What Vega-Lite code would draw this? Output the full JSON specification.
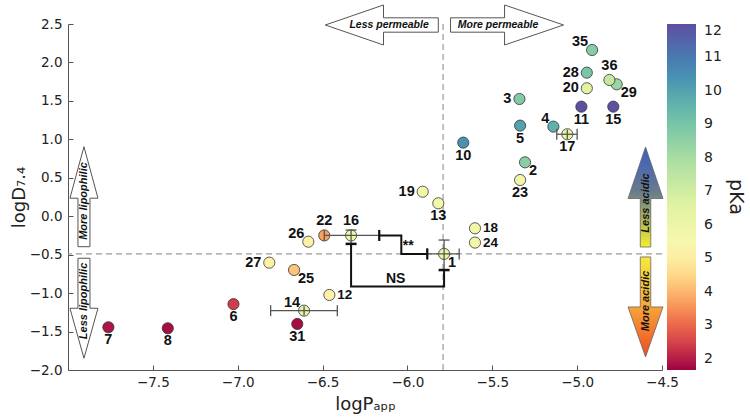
{
  "$schema": "https://vega.github.io/schema/vega-lite/v6.json",
  "width": 594,
  "height": 346,
  "autosize": {"type": "none"},
  "padding": {"left": 68, "top": 24, "right": 88, "bottom": 49},
  "background": "white",
  "config": {"view": {"stroke": null}},
  "datasets": {
    "pts": [
      {"id": "1", "x": -5.784, "y": -0.49, "pKa": 6.0, "pos": "downright"},
      {"id": "2", "x": -5.307, "y": 0.701, "pKa": 8.6, "pos": "downright"},
      {"id": "3", "x": -5.34, "y": 1.525, "pKa": 8.8, "pos": "left"},
      {"id": "4", "x": -5.14, "y": 1.165, "pKa": 9.6, "pos": "upleft"},
      {"id": "5", "x": -5.336, "y": 1.178, "pKa": 10.0, "pos": "below"},
      {"id": "6", "x": -7.025, "y": -1.143, "pKa": 2.4, "pos": "below"},
      {"id": "7", "x": -7.762, "y": -1.444, "pKa": 1.9, "pos": "below"},
      {"id": "8", "x": -7.412, "y": -1.457, "pKa": 1.8, "pos": "below"},
      {"id": "10", "x": -5.671, "y": 0.957, "pKa": 10.4, "pos": "below"},
      {"id": "11", "x": -4.975, "y": 1.425, "pKa": 12.0, "pos": "below"},
      {"id": "12", "x": -6.46, "y": -1.024, "pKa": 5.1, "pos": "right"},
      {"id": "13", "x": -5.818, "y": 0.168, "pKa": 5.8, "pos": "below"},
      {"id": "14", "x": -6.609, "y": -1.228, "pKa": 6.4, "pos": "upleft"},
      {"id": "15", "x": -4.787, "y": 1.425, "pKa": 12.0, "pos": "below"},
      {"id": "16", "x": -6.332, "y": -0.25, "pKa": 5.9, "pos": "above"},
      {"id": "17", "x": -5.058, "y": 1.066, "pKa": 6.3, "pos": "below"},
      {"id": "18", "x": -5.602, "y": -0.157, "pKa": 5.8, "pos": "right"},
      {"id": "19", "x": -5.91, "y": 0.319, "pKa": 5.8, "pos": "left"},
      {"id": "20", "x": -4.943, "y": 1.664, "pKa": 6.6, "pos": "left"},
      {"id": "22", "x": -6.49, "y": -0.25, "pKa": 3.7, "pos": "above"},
      {"id": "23", "x": -5.336, "y": 0.471, "pKa": 5.8, "pos": "below"},
      {"id": "24", "x": -5.602, "y": -0.343, "pKa": 5.8, "pos": "right"},
      {"id": "25", "x": -6.668, "y": -0.699, "pKa": 4.2, "pos": "downright"},
      {"id": "26", "x": -6.584, "y": -0.331, "pKa": 5.1, "pos": "upleft"},
      {"id": "27", "x": -6.814, "y": -0.604, "pKa": 5.1, "pos": "left"},
      {"id": "28", "x": -4.943, "y": 1.867, "pKa": 9.0, "pos": "left"},
      {"id": "29", "x": -4.767, "y": 1.716, "pKa": 8.3, "pos": "downright"},
      {"id": "31", "x": -6.649, "y": -1.401, "pKa": 1.8, "pos": "below"},
      {"id": "35", "x": -4.912, "y": 2.162, "pKa": 8.7, "pos": "upleft"},
      {"id": "36", "x": -4.81, "y": 1.772, "pKa": 7.3, "pos": "above"}
    ],
    "err": [
      {"id": "16", "x": -6.332, "y": -0.25, "xlo": -6.49, "xhi": -6.166, "ylo": -0.36, "yhi": -0.18},
      {"id": "1", "x": -5.784, "y": -0.49, "xlo": -5.883, "xhi": -5.695, "ylo": -0.7, "yhi": -0.31},
      {"id": "14", "x": -6.609, "y": -1.228, "xlo": -6.806, "xhi": -6.413, "ylo": -1.29, "yhi": -1.17},
      {"id": "17", "x": -5.058, "y": 1.066, "xlo": -5.12, "xhi": -5.0, "ylo": 1.005, "yhi": 1.125}
    ],
    "brackets": [
      {"b": "NS", "i": 0, "x": -6.332, "y": -0.36},
      {"b": "NS", "i": 1, "x": -6.332, "y": -0.915},
      {"b": "NS", "i": 2, "x": -5.784, "y": -0.915},
      {"b": "NS", "i": 3, "x": -5.784, "y": -0.7},
      {"b": "ss", "i": 0, "x": -6.166, "y": -0.25},
      {"b": "ss", "i": 1, "x": -6.036, "y": -0.25},
      {"b": "ss", "i": 2, "x": -6.036, "y": -0.49},
      {"b": "ss", "i": 3, "x": -5.883, "y": -0.49}
    ]
  },
  "encoding": {
    "x": {"type": "quantitative",
      "scale": {"domain": [-8, -4.5], "nice": false, "zero": false},
      "axis": {"title": "logPₐₚₚ", "values": [-7.5, -7, -6.5, -6, -5.5, -5, -4.5], "format": ".1f", "grid": false,
        "tickSize": -5, "tickColor": "#555", "domainColor": "#555", "labelFlush": false, "labelOverlap": false, "labelBound": false,
        "labelFont": "DejaVu Sans", "labelFontSize": 13.5, "labelColor": "#222", "labelPadding": 10,
        "titleFont": "DejaVu Sans", "titleFontSize": 18, "titleFontWeight": "normal", "titleColor": "#222", "titlePadding": 7}},
    "y": {"type": "quantitative",
      "scale": {"domain": [-2, 2.5], "nice": false, "zero": false},
      "axis": {"title": "logD₇.₄", "values": [-2, -1.5, -1, -0.5, 0, 0.5, 1, 1.5, 2, 2.5], "tickCount": 10, "format": ".1f", "grid": false,
        "tickSize": -5, "tickColor": "#555", "domainColor": "#555", "labelFlush": false, "labelOverlap": false, "labelBound": false,
        "labelFont": "DejaVu Sans", "labelFontSize": 13.5, "labelColor": "#222", "labelPadding": 11,
        "titleFont": "DejaVu Sans", "titleFontSize": 18, "titleFontWeight": "normal", "titleColor": "#222", "titlePadding": 1}}
  },
  "layer": [
    {
      "data": {"values": [{"x": -5.79}]},
      "mark": {"type": "rule", "color": "#9a9a9a", "strokeWidth": 1.2, "strokeDash": [6, 4]},
      "encoding": {"x": {"field": "x"}}
    },
    {
      "data": {"values": [{"y": -0.49}]},
      "mark": {"type": "rule", "color": "#9a9a9a", "strokeWidth": 1.2, "strokeDash": [6, 4]},
      "encoding": {"y": {"field": "y"}}
    },
    {
      "data": {"values": [{"x": -6.151, "y": 2.487}]},
      "mark": {"type": "point", "filled": true, "fill": "white", "stroke": "#555", "strokeWidth": 1, "opacity": 1, "size": 12769,
        "shape": "M-1,0 L0.03,-0.354 L0.03,-0.127 L1,-0.127 L1,0.127 L0.03,0.127 L0.03,0.354 Z"},
      "encoding": {"x": {"field": "x"}, "y": {"field": "y"}}
    },
    {
      "data": {"values": [{"x": -5.413, "y": 2.487}]},
      "mark": {"type": "point", "filled": true, "fill": "white", "stroke": "#555", "strokeWidth": 1, "opacity": 1, "size": 12769,
        "shape": "M1,0 L-0.044,-0.354 L-0.044,-0.127 L-1,-0.127 L-1,0.127 L-0.044,0.127 L-0.044,0.354 Z"},
      "encoding": {"x": {"field": "x"}, "y": {"field": "y"}}
    },
    {
      "data": {"values": [{"x": -7.906, "y": 0.254}]},
      "mark": {"type": "point", "filled": true, "fill": "white", "stroke": "#555", "strokeWidth": 1, "opacity": 1, "size": 10000,
        "shape": "M0,-1 L0.28,0.03 L0.12,0.03 L0.12,1 L-0.12,1 L-0.12,0.03 L-0.28,0.03 Z"},
      "encoding": {"x": {"field": "x"}, "y": {"field": "y"}}
    },
    {
      "data": {"values": [{"x": -7.906, "y": -1.197}]},
      "mark": {"type": "point", "filled": true, "fill": "white", "stroke": "#555", "strokeWidth": 1, "opacity": 1, "size": 10000,
        "shape": "M0,1 L0.28,0 L0.12,0 L0.12,-1 L-0.12,-1 L-0.12,0 L-0.28,0 Z"},
      "encoding": {"x": {"field": "x"}, "y": {"field": "y"}}
    },
    {
      "data": {"values": [{"x": -4.597, "y": 0.25}]},
      "mark": {"type": "point", "filled": true, "stroke": "#666", "strokeWidth": 0.8, "opacity": 1, "size": 10000,
        "shape": "M0,-1 L0.35,0.03 L0.105,0.03 L0.105,1 L-0.105,1 L-0.105,0.03 L-0.35,0.03 Z",
        "fill": {"gradient": "linear", "x1": 0, "y1": 0, "x2": 0, "y2": 1,
          "stops": [{"offset": 0, "color": "#3a5cc4"}, {"offset": 0.45, "color": "#687c8c"}, {"offset": 1, "color": "#f4ee2c"}]}},
      "encoding": {"x": {"field": "x"}, "y": {"field": "y"}}
    },
    {
      "data": {"values": [{"x": -4.597, "y": -1.18}]},
      "mark": {"type": "point", "filled": true, "stroke": "#666", "strokeWidth": 0.8, "opacity": 1, "size": 10000,
        "shape": "M0,1 L0.35,0 L0.105,0 L0.105,-1 L-0.105,-1 L-0.105,0 L-0.35,0 Z",
        "fill": {"gradient": "linear", "x1": 0, "y1": 0, "x2": 0, "y2": 1,
          "stops": [{"offset": 0, "color": "#f5ea3c"}, {"offset": 0.5, "color": "#f6a53a"}, {"offset": 1, "color": "#ef4b23"}]}},
      "encoding": {"x": {"field": "x"}, "y": {"field": "y"}}
    },
    {
      "data": {"values": [{"x": -6.108, "y": 2.487, "t": "Less permeable"}, {"x": -5.466, "y": 2.487, "t": "More permeable"}]},
      "mark": {"type": "text", "font": "Liberation Sans", "fontSize": 10.5, "fontWeight": "bold", "fontStyle": "italic", "color": "#111", "baseline": "middle", "align": "center"},
      "encoding": {"x": {"field": "x"}, "y": {"field": "y"}, "text": {"field": "t"}}
    },
    {
      "data": {"values": [
        {"x": -7.906, "y": 0.198, "t": "More lipophilic"},
        {"x": -7.906, "y": -1.102, "t": "Less lipophilic"},
        {"x": -4.597, "y": 0.172, "t": "Less acidic"},
        {"x": -4.597, "y": -1.102, "t": "More acidic"}]},
      "mark": {"type": "text", "font": "Liberation Sans", "fontSize": 11, "fontWeight": "bold", "fontStyle": "italic", "color": "#111", "baseline": "middle", "align": "center", "angle": 270},
      "encoding": {"x": {"field": "x"}, "y": {"field": "y"}, "text": {"field": "t"}}
    },
    {
      "data": {"name": "pts"},
      "mark": {"type": "circle", "size": 125, "stroke": "#333", "strokeWidth": 0.8, "opacity": 1},
      "encoding": {
        "x": {"field": "x"},
        "y": {"field": "y"},
        "color": {"field": "pKa", "type": "quantitative",
          "scale": {"scheme": "spectral", "domain": [1.67, 12], "domainMid": 5.3},
          "legend": {"orient": "right", "offset": 5, "padding": 0, "direction": "vertical",
            "gradientLength": 346, "gradientThickness": 29, "gradientStrokeWidth": 0,
            "values": [2, 3, 4, 5, 6, 7, 8, 9, 10, 11, 12], "labelOverlap": false,
            "labelFont": "DejaVu Sans", "labelFontSize": 14, "labelColor": "#222", "labelOffset": 8,
            "title": "pKa", "titleOrient": "right", "titleAnchor": "middle", "titleFont": "DejaVu Sans", "titleFontSize": 19,
            "titleFontWeight": "normal", "titleColor": "#222", "titlePadding": 4,
            "encode": {"title": {"update": {"angle": {"value": 270}}}, "labels": {"update": {"baseline": {"value": "middle"}}}}}}
      }
    },
    {
      "data": {"name": "err"},
      "mark": {"type": "rule", "color": "#555", "strokeWidth": 1.3},
      "encoding": {"x": {"field": "xlo"}, "x2": {"field": "xhi"}, "y": {"field": "y"}}
    },
    {
      "data": {"name": "err"},
      "mark": {"type": "rule", "color": "#555", "strokeWidth": 1.3},
      "encoding": {"x": {"field": "x"}, "y": {"field": "ylo"}, "y2": {"field": "yhi"}}
    },
    {
      "data": {"name": "err"},
      "mark": {"type": "tick", "orient": "vertical", "color": "#555", "size": 11, "thickness": 1.3, "opacity": 1},
      "encoding": {"x": {"field": "xlo"}, "y": {"field": "y"}}
    },
    {
      "data": {"name": "err"},
      "mark": {"type": "tick", "orient": "vertical", "color": "#555", "size": 11, "thickness": 1.3, "opacity": 1},
      "encoding": {"x": {"field": "xhi"}, "y": {"field": "y"}}
    },
    {
      "data": {"name": "err"},
      "transform": [{"filter": "datum.id == '16' || datum.id == '1'"}],
      "mark": {"type": "tick", "orient": "horizontal", "color": "#555", "size": 11, "thickness": 1.3, "opacity": 1},
      "encoding": {"x": {"field": "x"}, "y": {"field": "yhi"}}
    },
    {
      "data": {"name": "brackets"},
      "mark": {"type": "line", "color": "#111", "strokeWidth": 2},
      "encoding": {"x": {"field": "x"}, "y": {"field": "y"}, "detail": {"field": "b"}, "order": {"field": "i"}}
    },
    {
      "data": {"name": "brackets"},
      "transform": [{"filter": "datum.b == 'NS' && (datum.i == 0 || datum.i == 3)"}],
      "mark": {"type": "tick", "orient": "horizontal", "color": "#111", "size": 11, "thickness": 2.5, "opacity": 1},
      "encoding": {"x": {"field": "x"}, "y": {"field": "y"}}
    },
    {
      "data": {"name": "brackets"},
      "transform": [{"filter": "datum.b == 'ss' && (datum.i == 0 || datum.i == 3)"}],
      "mark": {"type": "tick", "orient": "vertical", "color": "#111", "size": 11, "thickness": 2.2, "opacity": 1},
      "encoding": {"x": {"field": "x"}, "y": {"field": "y"}}
    },
    {
      "data": {"values": [{"x": -6.069, "y": -0.816, "t": "NS"}, {"x": -5.995, "y": -0.39, "t": "**"}]},
      "mark": {"type": "text", "font": "Liberation Sans", "fontSize": 14, "fontWeight": "bold", "color": "#111", "baseline": "middle", "align": "center"},
      "encoding": {"x": {"field": "x"}, "y": {"field": "y"}, "text": {"field": "t"}}
    },
    {
      "data": {"name": "pts"},
      "transform": [{"filter": "datum.pos == 'below'"}],
      "mark": {"type": "text", "font": "Liberation Sans", "fontSize": 14.5, "fontWeight": "bold", "color": "#111", "baseline": "middle", "align": "center", "dy": 13},
      "encoding": {"x": {"field": "x"}, "y": {"field": "y"}, "text": {"field": "id"}}
    },
    {
      "data": {"name": "pts"},
      "transform": [{"filter": "datum.pos == 'above'"}],
      "mark": {"type": "text", "font": "Liberation Sans", "fontSize": 14.5, "fontWeight": "bold", "color": "#111", "baseline": "middle", "align": "center", "dy": -14},
      "encoding": {"x": {"field": "x"}, "y": {"field": "y"}, "text": {"field": "id"}}
    },
    {
      "data": {"name": "pts"},
      "transform": [{"filter": "datum.pos == 'left'"}],
      "mark": {"type": "text", "font": "Liberation Sans", "fontSize": 14.5, "fontWeight": "bold", "color": "#111", "baseline": "middle", "align": "right", "dx": -8},
      "encoding": {"x": {"field": "x"}, "y": {"field": "y"}, "text": {"field": "id"}}
    },
    {
      "data": {"name": "pts"},
      "transform": [{"filter": "datum.pos == 'right'"}],
      "mark": {"type": "text", "font": "Liberation Sans", "fontSize": 13.5, "fontWeight": "bold", "color": "#111", "baseline": "middle", "align": "left", "dx": 8},
      "encoding": {"x": {"field": "x"}, "y": {"field": "y"}, "text": {"field": "id"}}
    },
    {
      "data": {"name": "pts"},
      "transform": [{"filter": "datum.pos == 'upleft'"}],
      "mark": {"type": "text", "font": "Liberation Sans", "fontSize": 14.5, "fontWeight": "bold", "color": "#111", "baseline": "middle", "align": "right", "dx": -4, "dy": -8},
      "encoding": {"x": {"field": "x"}, "y": {"field": "y"}, "text": {"field": "id"}}
    },
    {
      "data": {"name": "pts"},
      "transform": [{"filter": "datum.pos == 'downright'"}],
      "mark": {"type": "text", "font": "Liberation Sans", "fontSize": 14.5, "fontWeight": "bold", "color": "#111", "baseline": "middle", "align": "left", "dx": 4, "dy": 9},
      "encoding": {"x": {"field": "x"}, "y": {"field": "y"}, "text": {"field": "id"}}
    }
  ]
}
